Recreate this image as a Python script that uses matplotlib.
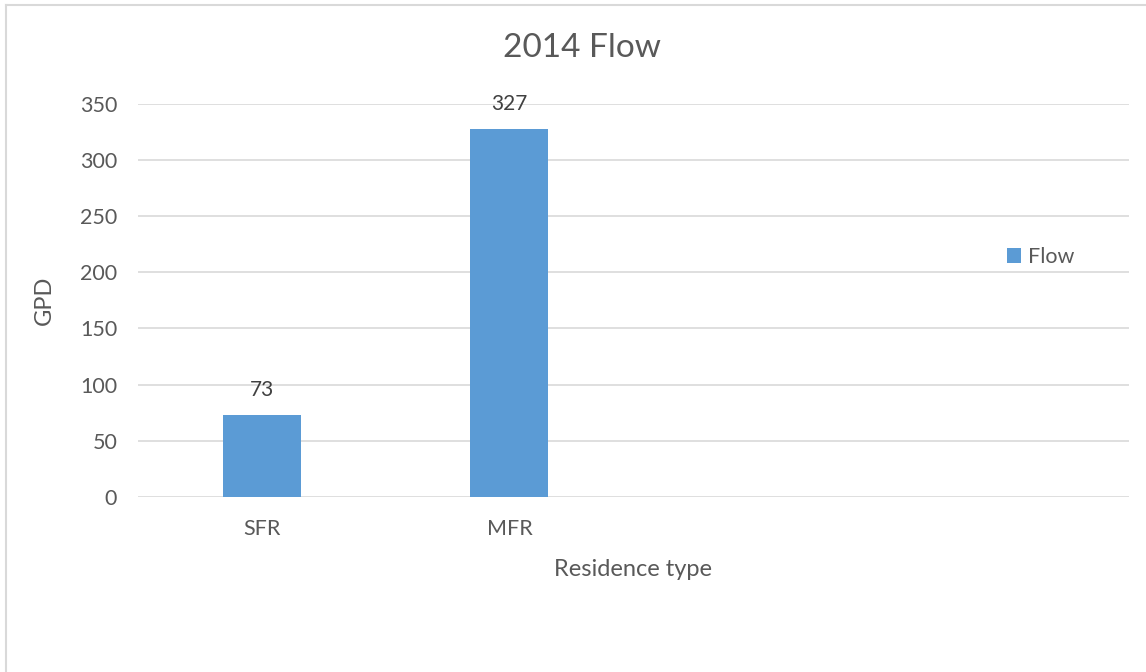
import numpy as np
import matplotlib.pyplot as plt
from matplotlib.lines import Line2D

# ── Data ─────────────────────────────────────────────────────────────────────
categories = ["SFR", "MFR", "", ""]
flow = [73, 327, np.nan, np.nan]
y_ticks = [0, 50, 100, 150, 200, 250, 300, 350]
# ─────────────────────────────────────────────────────────────────────────────

BAR_COLOR = "#5B9BD5"
TEXT_COLOR = "#595959"
GRID_COLOR = "#D9D9D9"

plt.rcParams["font.family"] = ["Lato", "DejaVu Sans"]

fig = plt.figure(figsize=(11.46, 6.72), dpi=100)
ax = fig.add_axes([138 / 1146, 1 - 497 / 672, (1128.5 - 138) / 1146, (497 - 103.5) / 672])

x = np.arange(len(categories))
bars = ax.bar(x, flow, width=0.315, color=BAR_COLOR, zorder=3, label="Flow")

for xi, v in zip(x, flow):
    if not np.isnan(v):
        ax.annotate(f"{v:.0f}", (xi, v), xytext=(0, 11), textcoords="offset points",
                    ha="center", va="bottom", fontsize=15, color="#404040")

ax.set_xlim(-0.5, len(categories) - 0.5)
ax.set_ylim(0, 350)
ax.set_yticks(y_ticks)
ax.set_xticks(x)
ax.set_xticklabels(categories)
ax.tick_params(axis="both", length=0, labelsize=15.5, labelcolor=TEXT_COLOR)
ax.tick_params(axis="y", pad=15)
ax.tick_params(axis="x", pad=16)
ax.grid(axis="y", color=GRID_COLOR, linewidth=1.2, zorder=0)
for s in ax.spines.values():
    s.set_visible(False)

ax.set_xlabel("Residence type", fontsize=17, color=TEXT_COLOR, labelpad=14)
ax.set_ylabel("GPD", fontsize=17, color=TEXT_COLOR, labelpad=18)

fig.text(582 / 1146, 1 - 48 / 672, "2014 Flow", ha="center", va="center",
         fontsize=24, color=TEXT_COLOR)

ax.legend(loc="center left", bbox_to_anchor=(0.858, 0.61), frameon=False,
          fontsize=15.5, handlelength=0.65, handleheight=0.65, handletextpad=0.3,
          labelcolor=TEXT_COLOR)

# chart border (top and left edges only visible)
fig.add_artist(Line2D([6 / 1146, 1], [1 - 5 / 672, 1 - 5 / 672], color=GRID_COLOR,
                      linewidth=1.5, transform=fig.transFigure))
fig.add_artist(Line2D([6 / 1146, 6 / 1146], [0, 1 - 5 / 672], color=GRID_COLOR,
                      linewidth=1.5, transform=fig.transFigure))

fig.savefig("out.png", dpi=100, facecolor="white")
